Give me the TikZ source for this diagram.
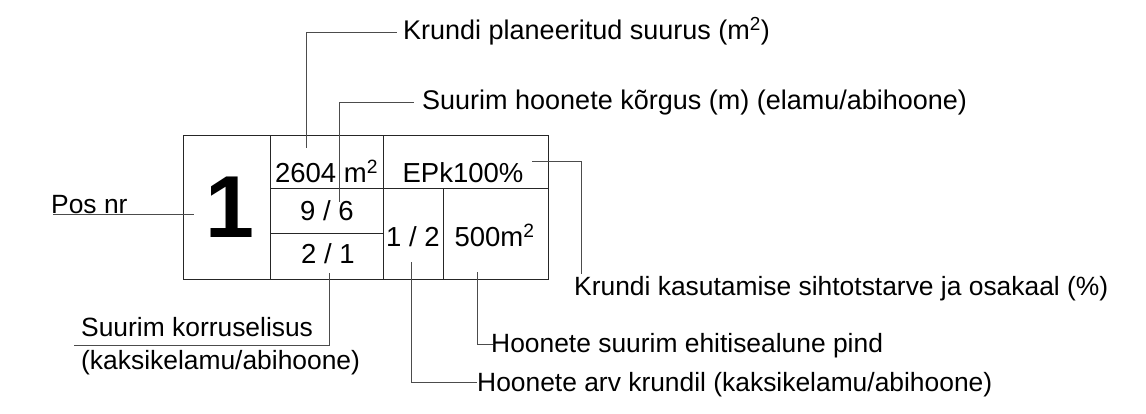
\documentclass[tikz,border=0pt]{standalone}
\usepackage{fontspec}
\setmainfont{Liberation Sans}
\begin{document}
\begin{tikzpicture}[x=1pt,y=-1pt,
  lbl/.style={inner sep=0pt,anchor=base west,font=\fontsize{26.4}{31}\selectfont},
  toplbl/.style={inner sep=0pt,anchor=base west,font=\fontsize{27}{32}\selectfont},
  celltxt/.style={inner sep=0pt,anchor=base,font=\fontsize{27.5}{32}\selectfont},
  boxline/.style={line width=1pt,draw=black!85},
  lead/.style={line width=1pt,draw=black!70}]
\useasboundingbox[fill=white] (0,0) rectangle (1146,414);
% table
\draw[boxline] (183,136) rectangle (548,279);
\coordinate (c1t) at (270,136); \coordinate (c1b) at (270,279);
\coordinate (c2t) at (383,136); \coordinate (c2b) at (383,279);
\coordinate (c3t) at (443,189); \coordinate (c3b) at (443,279);
\coordinate (r1l) at (270,189); \coordinate (r1r) at (548,189);
\coordinate (r2l) at (270,234); \coordinate (r2r) at (383,234);
\draw[boxline] (c1t) -- (c1b) (c2t) -- (c2b) (c3t) -- (c3b)
  (r1l) -- (r1r) (r2l) -- (r2r);
% cell texts
\node[inner sep=0pt,anchor=base,font=\fontsize{88}{88}\selectfont\bfseries] (num) at (229.5,238) {1};
\node[celltxt] (area) at (326.5,182.5) {2604 m\textsuperscript{2}};
\node[celltxt] (ep) at (463,182.5) {EPk100\%};
\node[celltxt] (h) at (327,221) {9 / 6};
\node[celltxt] (k) at (328,264) {2 / 1};
\node[celltxt] (n) at (413,247) {1 / 2};
\node[celltxt] (pind) at (494.5,247) {500m\textsuperscript{2}};
% labels
\node[toplbl] (l1) at (403,40) {Krundi planeeritud suurus (m\textsuperscript{2})};
\node[toplbl] (l2) at (422,109.5) {Suurim hoonete kõrgus (m) (elamu/abihoone)};
\node[lbl] (l3) at (51,214) {Pos nr};
\node[lbl] (l4) at (574,295) {Krundi kasutamise sihtotstarve ja osakaal (\%)};
\node[lbl] (l5a) at (81,336) {Suurim korruselisus};
\node[lbl] (l5b) at (81,369) {(kaksikelamu/abihoone)};
\node[lbl] (l6) at (491,352) {Hoonete suurim ehitisealune pind};
\node[lbl] (l7) at (477,391) {Hoonete arv krundil (kaksikelamu/abihoone)};
% leaders
\coordinate (a1) at (306,148); \coordinate (a1e) at (397,32.3);
\draw[lead] (a1) |- (a1e);
\coordinate (a2) at (339,202); \coordinate (a2e) at (414,102.7);
\draw[lead] (a2) |- (a2e);
\coordinate (a3) at (53,215); \coordinate (a3e) at (194,215);
\draw[lead] (a3) -- (a3e);
\coordinate (a4) at (532,162); \coordinate (a4e) at (581,274);
\draw[lead] (a4) -| (a4e);
\coordinate (a5) at (329,273); \coordinate (a5e) at (74,345);
\draw[lead] (a5) |- (a5e);
\coordinate (a6) at (477,272); \coordinate (a6e) at (493,344);
\draw[lead] (a6) |- (a6e);
\coordinate (a7) at (411.5,262); \coordinate (a7e) at (477,382);
\draw[lead] (a7) |- (a7e);
\end{tikzpicture}
\end{document}
